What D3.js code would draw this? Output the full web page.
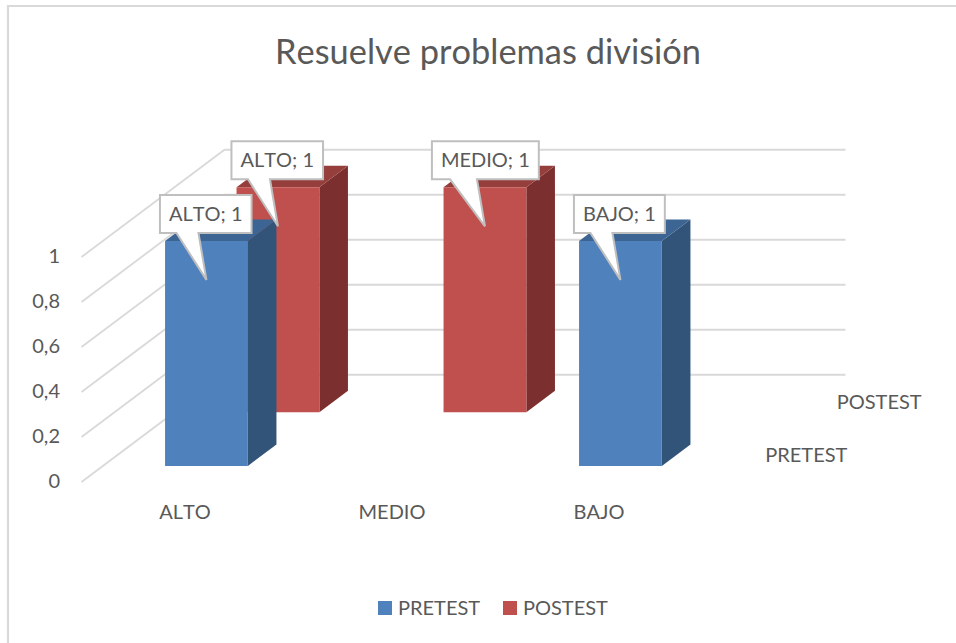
<!DOCTYPE html>
<html><head><meta charset="utf-8">
<script src="https://cdn.jsdelivr.net/npm/d3@7/dist/d3.min.js"></script>
<style>html,body{margin:0;padding:0;background:#fff}svg{display:block}text{font-family:Lato,"Open Sans",sans-serif;fill:#595959;font-kerning:none}</style>
</head><body><svg id="c" width="956" height="643"></svg>
<script>
const chartTitle = "Resuelve problemas división";
const categories = ["ALTO","MEDIO","BAJO"];
const seriesNames = ["PRETEST","POSTEST"];
const pretest = [1,null,1];
const postest = [1,1,null];
const tickValues = [0,0.2,0.4,0.6,0.8,1];
const tickLabels = ["0","0,2","0,4","0,6","0,8","1"];
const frontColors = ["#4f81bd","#c0504d"];
const topColors = ["#3d6594","#963e3c"];
const sideColors = ["#325479","#7b2f2e"];

const svg = d3.select("#c");
const grid = "#d9d9d9";
// frame
svg.append("path").attr("d","M8,643V6H956").attr("fill","none").attr("stroke",grid).attr("stroke-width",2.2);

// scales: x across categories, y value height, z depth (px along x; screen y moves by 0.75 of it)
const floorY = 482, zSlope = 0.75;
const x = d3.scaleBand(categories,[81.5,702.5]);
const y = d3.scaleLinear([0,1],[0,225]);
const z = d3.scaleBand(seriesNames,[0,143]).paddingInner(0.6).paddingOuter(0.3);
const barW = x.bandwidth()*0.4;
const zMax = z.range()[1];
const project = (px,v,d)=>[px+d, floorY - y(v) - d*zSlope];
const pts = a=>a.map(p=>p.join(",")).join(" ");
const x0 = x.range()[0], x1 = x.range()[1];

// gridlines
const gl = svg.append("g").attr("fill","none").attr("stroke",grid).attr("stroke-width",1.8);
tickValues.forEach(v=>{
  gl.append("polyline").attr("points",pts([project(x0,v,0),project(x0,v,zMax),project(x1,v,zMax)]));
});
// value axis labels
tickValues.forEach((v,i)=>{
  svg.append("text").attr("x",60).attr("y",floorY-1-y(v)).attr("dy","0.35em")
    .attr("text-anchor","end").attr("font-size",20).text(tickLabels[i]);
});
// category labels
categories.forEach(c=>{
  svg.append("text").attr("x",x(c)+x.bandwidth()/2).attr("y",512).attr("dy","0.35em")
    .attr("text-anchor","middle").attr("font-size",20).text(c);
});
// depth axis labels
seriesNames.forEach(s=>{
  const d = z(s)+z.bandwidth()/2;
  const p = project(x1,0,d);
  svg.append("text").attr("x",p[0]+27).attr("y",p[1]).attr("dy","0.35em")
    .attr("font-size",20).text(s);
});

// bars: back series first
const allSeries = [pretest,postest];
const callouts = [];
[1,0].forEach(si=>{
  const s = seriesNames[si];
  allSeries[si].forEach((v,ci)=>{
    if(v==null) return;
    const l = x(categories[ci])+(x.bandwidth()-barW)/2, r = l+barW;
    const d0 = z(s), d1 = d0+z.bandwidth();
    const g = svg.append("g");
    g.append("polygon").attr("fill",sideColors[si]).attr("points",pts([project(r,0,d0),project(r,v,d0),project(r,v,d1),project(r,0,d1)]));
    g.append("polygon").attr("fill",topColors[si]).attr("points",pts([project(l,v,d0),project(r,v,d0),project(r,v,d1),project(l,v,d1)]));
    g.append("polygon").attr("fill",frontColors[si]).attr("points",pts([project(l,0,d0),project(r,0,d0),project(r,v,d0),project(l,v,d0)]));
    const tip = project((l+r)/2,v,d0);
    callouts.push({tip:[tip[0],tip[1]+39],label:categories[ci]+"; "+v});
  });
});
// callouts
const calloutLayer = svg.append("g");
callouts.forEach(c=>{
  const [tx,ty] = c.tip;
  const g = calloutLayer.append("g");
  const path = g.append("path").attr("fill","#fff").attr("stroke","#bfbfbf").attr("stroke-width",2).attr("stroke-linejoin","miter");
  const t = g.append("text").attr("font-size",20).attr("y",ty-66).attr("dy","0.35em").text(c.label);
  const w = t.node().getComputedTextLength();
  const pad = 9;
  const bw = w+2*pad;
  const extra = Math.max(0,w-75);
  const left = tx-46.5-extra*0.47, right = left+bw, top = ty-85, bot = ty-47;
  t.attr("x",left+pad);
  path.attr("d",`M${left},${top}H${right}V${bot}H${tx-8}L${tx},${ty}L${tx-30-extra*0.35},${bot}H${left}Z`);
});
// title
svg.append("text").attr("x",488).attr("y",52).attr("dy","0.35em").attr("text-anchor","middle").attr("font-size",34.4).text(chartTitle);
// legend
const legendX = [378,503];
seriesNames.forEach((s,i)=>{
  svg.append("rect").attr("x",legendX[i]).attr("y",601).attr("width",14).attr("height",14).attr("fill",frontColors[i]);
  svg.append("text").attr("x",legendX[i]+20).attr("y",608).attr("dy","0.35em").attr("font-size",20).text(s);
});
</script></body></html>
